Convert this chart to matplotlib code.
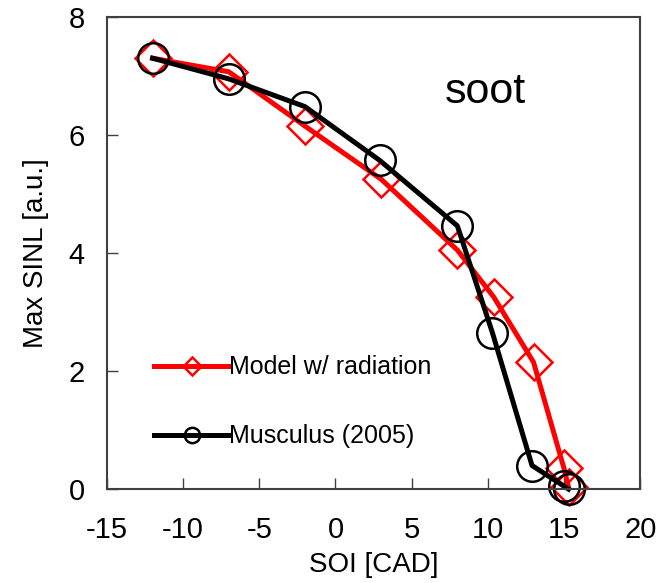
import matplotlib
matplotlib.use('Agg')
import matplotlib.pyplot as plt

plt.rcParams['font.family'] = ['Liberation Sans', 'DejaVu Sans']
plt.rcParams['axes.unicode_minus'] = False

# ── Data ─────────────────────────────────────────────────────
soi_model = [-12, -7, -2, 3, 8, 10.4, 13, 15, 15.3]
sinl_model = [7.3, 7.07, 6.15, 5.25, 4.05, 3.25, 2.15, 0.35, 0.03]

soi_exp = [-12, -7, -2, 2.9, 8, 10.3, 12.9, 15.0, 15.3]
sinl_exp = [7.3, 6.95, 6.48, 5.57, 4.46, 2.65, 0.4, 0.05, 0.0]

label_model = "Model w/ radiation"
label_exp = "Musculus (2005)"

fig = plt.figure(figsize=(6.6, 5.83), dpi=100)
ax = fig.add_axes([0.162, 0.161, 0.808, 0.810])

ax.plot(soi_model, sinl_model, color='#ff0000', lw=3.6, marker='D', ms=18,
        mfc='none', mec='#ff0000', mew=1.8, label=label_model, clip_on=False)
ax.plot(soi_exp, sinl_exp, color='black', lw=3.6, marker='o', ms=22,
        mfc='none', mec='black', mew=1.8, label=label_exp, clip_on=False)

ax.set_xlim(-15, 20)
ax.set_ylim(0, 8)
ax.set_xticks(range(-15, 21, 5))
ax.set_yticks(range(0, 9, 2))
ax.tick_params(direction='in', length=8, width=1, colors='#404040',
               labelcolor='black', labelsize=21)
ax.tick_params(axis='x', pad=19)
ax.tick_params(axis='y', pad=16)
for s in ax.spines.values():
    s.set_color('#404040')
    s.set_linewidth(1.5)

ax.set_xlabel("SOI [CAD]", fontsize=20, labelpad=6)
ax.set_ylabel("Max SINL [a.u.]", fontsize=20, labelpad=14)

ax.text(0.71, 0.84, "soot", transform=ax.transAxes, fontsize=31,
        ha='center', va='center')

ax.legend(loc='lower left', bbox_to_anchor=(0.07, 0.065), frameon=False,
          fontsize=18, handlelength=3.0, handletextpad=0.0, markerscale=0.5,
          labelspacing=1.8, borderaxespad=0)

fig.savefig("out.png", dpi=100)
